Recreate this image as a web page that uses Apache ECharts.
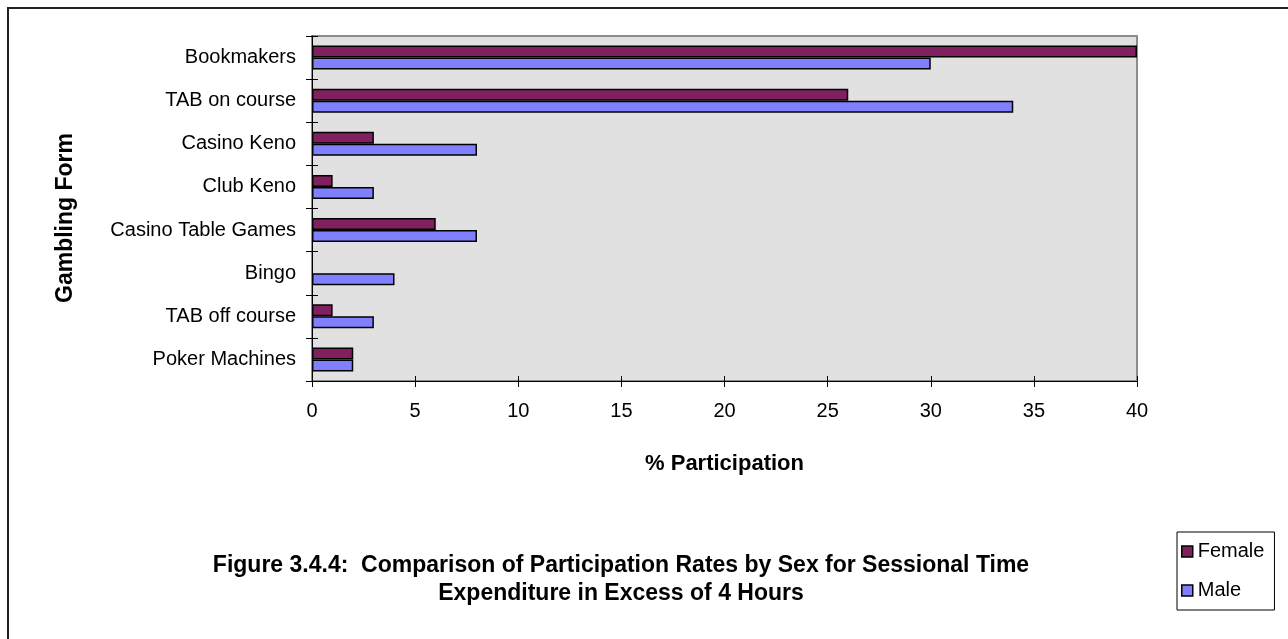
<!DOCTYPE html>
<html>
<head>
<meta charset="utf-8">
<script src="https://cdn.jsdelivr.net/npm/echarts@6/dist/echarts.min.js"></script>
<style>
  html, body { margin: 0; padding: 0; background: #fff; }
  #chart { width: 1288px; height: 639px; }
</style>
</head>
<body>
<div id="chart"></div>
<script>
// Gambling forms, listed top to bottom
const categories = [
  'Bookmakers',
  'TAB on course',
  'Casino Keno',
  'Club Keno',
  'Casino Table Games',
  'Bingo',
  'TAB off course',
  'Poker Machines'
];
// % participation, sessional time expenditure over 4 hours
const female = [40, 26, 3, 1, 6, 0, 1, 2];
const male = [30, 34, 8, 3, 8, 4, 3, 2];
const xTicks = { min: 0, max: 40, interval: 5 };

const FONT = '"Liberation Sans", Arial, sans-serif';
const chart = echarts.init(document.getElementById('chart'), null, { renderer: 'canvas' });

// a zero-length bar gets no outline, so nothing is drawn for it
const asBarData = values => values.map(v =>
  v === 0 ? { value: v, itemStyle: { borderWidth: 0 } } : v);

chart.setOption({
  animation: false,
  backgroundColor: '#ffffff',
  textStyle: { fontFamily: FONT, color: '#000' },
  grid: {
    left: 312, top: 36, right: 151, bottom: 258,
    show: true, backgroundColor: '#e1e1e1', borderColor: '#8c8c8c', borderWidth: 2
  },
  xAxis: [{
    type: 'value', min: xTicks.min, max: xTicks.max, interval: xTicks.interval,
    position: 'bottom',
    name: '% Participation', nameLocation: 'middle', nameGap: 72,
    nameTextStyle: { fontFamily: FONT, fontSize: 22, fontWeight: 'bold', color: '#000' },
    axisLine: { show: true, lineStyle: { color: '#000', width: 1 } },
    axisTick: { show: true, inside: false, length: 6, lineStyle: { color: '#000' } },
    axisLabel: { fontFamily: FONT, fontSize: 20, color: '#000', margin: 20 },
    splitLine: { show: false }
  }, {
    type: 'value', min: xTicks.min, max: xTicks.max, interval: xTicks.interval,
    position: 'bottom', offset: 0,
    axisLine: { show: false },
    axisTick: { show: true, inside: true, length: 5, lineStyle: { color: '#000' } },
    axisLabel: { show: false },
    splitLine: { show: false }
  }],
  yAxis: [{
    type: 'category', data: categories, inverse: true,
    axisLine: { show: true, lineStyle: { color: '#000', width: 1 } },
    axisTick: { show: true, inside: false, length: 6, lineStyle: { color: '#000' } },
    axisLabel: { fontFamily: FONT, fontSize: 20, color: '#000', margin: 16 },
    splitLine: { show: false }
  }, {
    type: 'category', data: categories, inverse: true, position: 'left', offset: 0,
    axisLine: { show: false },
    axisTick: { show: true, inside: true, length: 6, lineStyle: { color: '#000' } },
    axisLabel: { show: false },
    splitLine: { show: false }
  }],
  legend: {
    orient: 'vertical',
    left: 1177, top: 532,
    padding: [9, 10, 9, 4],
    itemGap: 18,
    itemWidth: 11, itemHeight: 11,
    icon: 'rect',
    borderColor: '#000', borderWidth: 1, backgroundColor: '#fff',
    textStyle: { fontFamily: FONT, fontSize: 20, color: '#000', lineHeight: 21 },
    itemStyle: { borderColor: '#000', borderWidth: 1.5 },
    data: ['Female', 'Male']
  },
  series: [{
    name: 'Female', type: 'bar', data: asBarData(female),
    barWidth: 12, barGap: '0%',
    itemStyle: { color: '#80205f', borderColor: '#000', borderWidth: 1.5 }
  }, {
    name: 'Male', type: 'bar', data: asBarData(male),
    barWidth: 12, barGap: '0%',
    itemStyle: { color: '#8080ff', borderColor: '#000', borderWidth: 1.5 }
  }],
  graphic: [{
    type: 'rect', silent: true, z: -1,
    shape: { x: 8, y: 8, width: 1300, height: 660 },
    style: { fill: 'none', stroke: '#222', lineWidth: 2 }
  }, {
    // vertical axis title
    type: 'text', silent: true,
    x: 66, y: 218, rotation: Math.PI / 2,
    style: {
      text: 'Gambling Form',
      fontFamily: FONT, fontSize: 23, fontWeight: 'bold', fill: '#000',
      textAlign: 'center', textVerticalAlign: 'middle'
    }
  }, {
    type: 'text', silent: true,
    x: 621, y: 552,
    style: {
      text: 'Figure 3.4.4:  Comparison of Participation Rates by Sex for Sessional Time\nExpenditure in Excess of 4 Hours',
      fontFamily: FONT, fontSize: 23, fontWeight: 'bold', fill: '#000',
      textAlign: 'center', lineHeight: 28
    }
  }]
});
</script>
</body>
</html>
